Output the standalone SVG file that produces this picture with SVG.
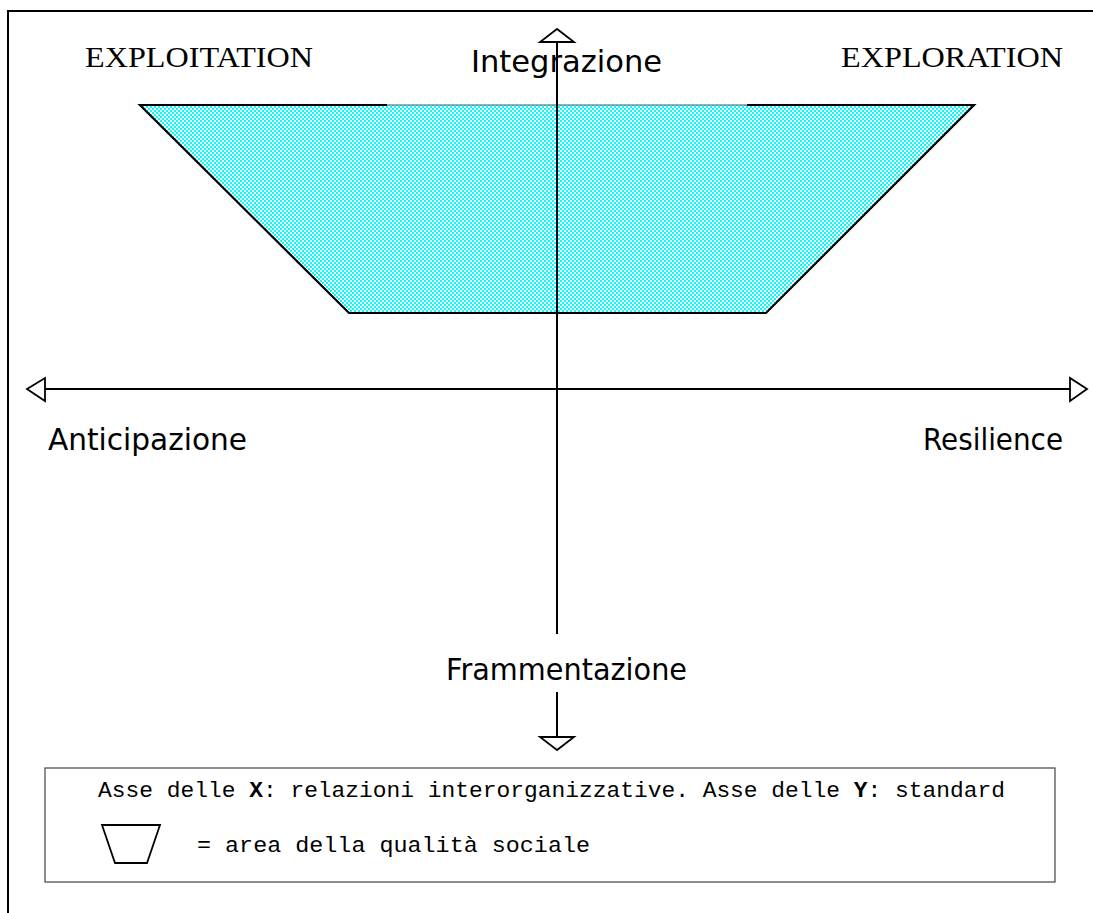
<svg xmlns="http://www.w3.org/2000/svg" width="1093" height="913" viewBox="0 0 1093 913">
<style>
.serif{font-family:"Liberation Serif","Times New Roman",serif;font-size:30px;fill:#000}
.comic{font-family:"Comic Sans MS","DejaVu Sans",sans-serif;font-size:30px;fill:#000}
.mono{font-family:"Liberation Mono","Courier New",monospace;font-size:22.5px;fill:#000}
.axis{stroke:#000;stroke-width:2;fill:none}
.head{stroke:#000;stroke-width:1.8;fill:#fff;stroke-linejoin:miter}
</style>
<defs>
<pattern id="chk" width="4" height="4" patternUnits="userSpaceOnUse">
<rect width="4" height="4" fill="#fff"/>
<rect x="0" y="0" width="2" height="2" fill="#00ffff"/>
<rect x="2" y="2" width="2" height="2" fill="#00ffff"/>
</pattern>
</defs>
<rect width="1093" height="913" fill="#fff"/>
<g id="frame">
<path d="M8 913 V11 H1093" fill="none" stroke="#000" stroke-width="2"/>
</g>
<g id="area">
<polygon points="140,105 974,105 766,313 349,313" fill="url(#chk)" stroke="none"/>
<path d="M387 105 H140 L349 313 H766 L974 105 H747" fill="none" stroke="#000" stroke-width="2.2"/>
<path d="M387 105 H747" stroke="#3a5a5a" stroke-width="1"/>
</g>
<g id="connectors">
<path class="axis" d="M557 42 V634 M557 692 V737"/>
<polygon class="head" points="557,29 540,42 574,42"/>
<polygon class="head" points="557,750 540,737 574,737"/>
<path class="axis" d="M45 389 H1070"/>
<polygon class="head" points="27,389 45,378 45,401"/>
<polygon class="head" points="1087,389 1070,378 1070,401"/>
</g>
<g id="labels">
<text class="serif" x="85" y="67" textLength="228" lengthAdjust="spacingAndGlyphs">EXPLOITATION</text>
<text class="serif" x="841" y="67" textLength="222" lengthAdjust="spacingAndGlyphs">EXPLORATION</text>
<text class="comic" x="471" y="72" textLength="191" lengthAdjust="spacingAndGlyphs">Integrazione</text>
<text class="comic" x="48" y="450" textLength="199" lengthAdjust="spacingAndGlyphs">Anticipazione</text>
<text class="comic" x="923" y="450" textLength="140" lengthAdjust="spacingAndGlyphs">Resilience</text>
<text class="comic" x="446" y="680" textLength="241" lengthAdjust="spacingAndGlyphs">Frammentazione</text>
</g>
<g id="legend">
<rect x="45" y="768" width="1010" height="114" fill="#fff" stroke="#444" stroke-width="1.2"/>
<text class="mono" x="98" y="797" textLength="907" lengthAdjust="spacingAndGlyphs">Asse delle <tspan font-weight="bold">X</tspan>: relazioni interorganizzative. Asse delle <tspan font-weight="bold">Y</tspan>: standard</text>
<polygon points="102,825 160,825 147,863 115,863" fill="none" stroke="#000" stroke-width="1.8"/>
<text class="mono" x="197" y="852" textLength="393" lengthAdjust="spacingAndGlyphs">= area della qualità sociale</text>
</g>
</svg>
